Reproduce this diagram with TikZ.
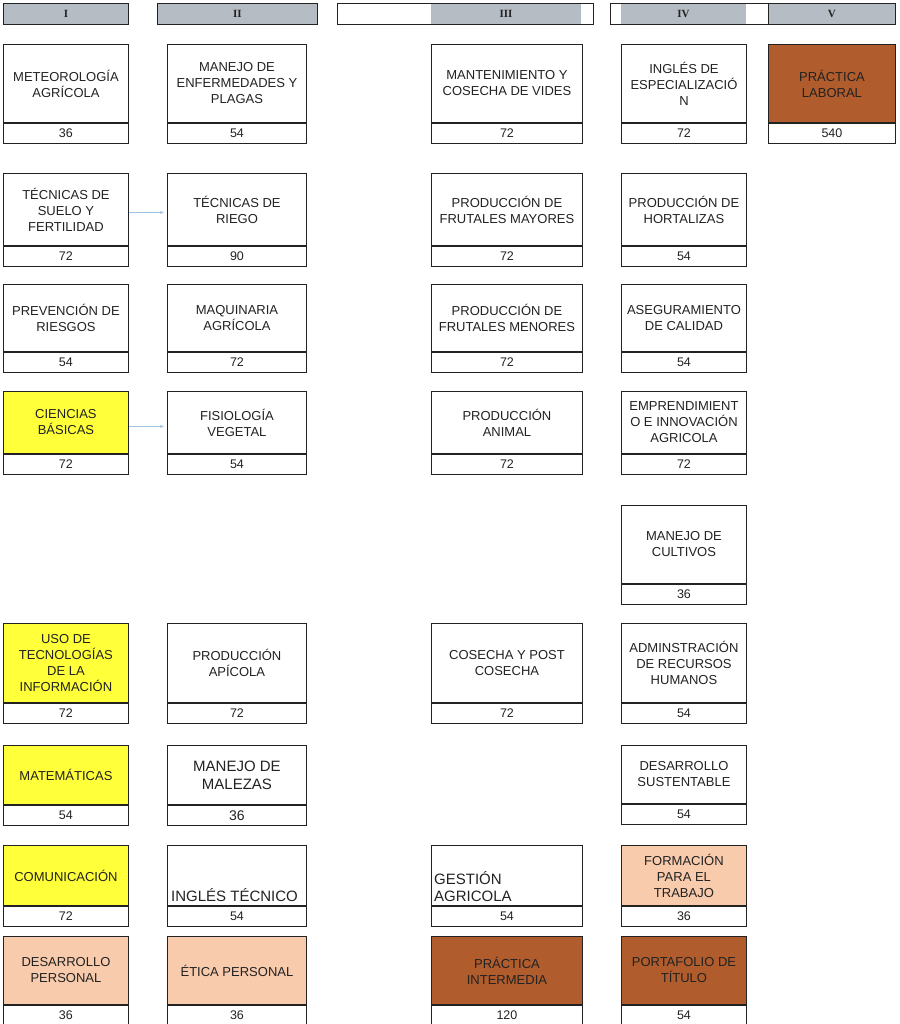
\documentclass[tikz,border=0pt]{standalone}
\usepackage{fontspec}
\setmainfont{Liberation Sans}
\newfontfamily\semfont{Liberation Serif}
\usetikzlibrary{arrows.meta}

\definecolor{gris}{HTML}{B6BCC4}
\definecolor{amarillo}{HTML}{FFFF3A}
\definecolor{durazno}{HTML}{F8CBAD}
\definecolor{cafe}{HTML}{B05C2D}
\definecolor{azulclaro}{HTML}{9DC3E6}
\definecolor{tinta}{HTML}{222222}

\tikzset{
	curso/.style={draw=tinta, line width=0.9pt, align=center, inner sep=1pt, text=tinta, font=\fontsize{13}{16}\selectfont, anchor=north west},
	horas/.style={draw=tinta, line width=0.9pt, fill=white, minimum height=20, inner sep=0pt, text=tinta, font=\fontsize{12.5}{14}\selectfont, anchor=north},
	sem/.style={draw=tinta, line width=0.9pt, minimum height=21, inner sep=0pt, anchor=north west},
	semtxt/.style={text=tinta, inner sep=0pt, font=\semfont\bfseries\fontsize{11}{12}\selectfont},
	flecha/.style={draw=azulclaro, line width=0.6pt, -{Stealth[length=4pt,width=3pt]}, shorten >=3pt},
}

\begin{document}
\begin{tikzpicture}[x=1pt, y=-1pt]
	\useasboundingbox (0,0) rectangle (899,1024);
	
	% semestres
	\node[sem, fill=gris, minimum width=125] (semI) at (3,3) {};
	\node[semtxt] (semI-t) at (semI.center) {I};
	\node[sem, fill=gris, minimum width=160] (semII) at (157,3) {};
	\node[semtxt] (semII-t) at (semII.center) {II};
	\fill[gris] (431,3) rectangle (581,24);
	\node[sem, minimum width=256] (semIII) at (337,3) {};
	\node[semtxt] (semIII-t) at (506,13.5) {III};
	\fill[gris] (621,3) rectangle (746,24);
	\node[sem, minimum width=158] (semIV) at (610,3) {};
	\node[semtxt] (semIV-t) at (683.5,13.5) {IV};
	\node[sem, fill=gris, minimum width=127] (semV) at (768,3) {};
	\node[semtxt] (semV-t) at (semV.center) {V};
	
	% asignaturas
	\foreach \name/\x/\w/\top/\h/\colr/\txt/\hrs in {
		meteo/3/125/44/78/white/{METEOROLOGÍA\\AGRÍCOLA}/36,
		suelo/3/125/173/72/white/{TÉCNICAS DE\\SUELO Y\\FERTILIDAD}/72,
		riesgos/3/125/284/67/white/{PREVENCIÓN DE\\RIESGOS}/54,
		basicas/3/125/391/62/amarillo/{CIENCIAS\\BÁSICAS}/72,
		tic/3/125/623/79/amarillo/{USO DE\\TECNOLOGÍAS\\DE LA\\INFORMACIÓN}/72,
		mate/3/125/745/59/amarillo/{MATEMÁTICAS}/54,
		comu/3/125/845/60/amarillo/{COMUNICACIÓN}/72,
		desper/3/125/936/68/durazno/{DESARROLLO\\PERSONAL}/36,
		plagas/167/139/44/78/white/{MANEJO DE\\ENFERMEDADES Y\\PLAGAS}/54,
		riego/167/139/173/72/white/{TÉCNICAS DE\\RIEGO}/90,
		maquinaria/167/139/284/67/white/{MAQUINARIA\\AGRÍCOLA}/72,
		fisio/167/139/391/62/white/{FISIOLOGÍA\\VEGETAL}/54,
		apicola/167/139/623/79/white/{PRODUCCIÓN\\APÍCOLA}/72,
		etica/167/139/936/68/durazno/{ÉTICA PERSONAL}/36,
		vides/431/151/44/78/white/{MANTENIMIENTO Y\\COSECHA DE VIDES}/72,
		mayores/431/151/173/72/white/{PRODUCCIÓN DE\\FRUTALES MAYORES}/72,
		menores/431/151/284/67/white/{PRODUCCIÓN DE\\FRUTALES MENORES}/72,
		animal/431/151/391/62/white/{PRODUCCIÓN\\ANIMAL}/72,
		postcosecha/431/151/623/79/white/{COSECHA Y POST\\COSECHA}/72,
		intermedia/431/151/936/68/cafe/{PRÁCTICA\\INTERMEDIA}/120,
		ingesp/621/125/44/78/white/{INGLÉS DE\\ESPECIALIZACIÓ\\N}/72,
		hortalizas/621/125/173/72/white/{PRODUCCIÓN DE\\HORTALIZAS}/54,
		calidad/621/125/284/67/white/{ASEGURAMIENTO\\DE CALIDAD}/54,
		emprende/621/125/391/62/white/{EMPRENDIMIENT\\O E INNOVACIÓN\\AGRICOLA}/72,
		cultivos/621/125/505/78/white/{MANEJO DE\\CULTIVOS}/36,
		rrhh/621/125/623/79/white/{ADMINSTRACIÓN\\DE RECURSOS\\HUMANOS}/54,
		sustentable/621/125/745/58/white/{DESARROLLO\\SUSTENTABLE}/54,
		trabajo/621/125/845/60/durazno/{FORMACIÓN\\PARA EL\\TRABAJO}/36,
		portafolio/621/125/936/68/cafe/{PORTAFOLIO DE\\TÍTULO}/54,
		laboral/768/127/44/78/cafe/{PRÁCTICA\\LABORAL}/540}
	{
		\node[curso, fill=\colr, minimum width=\w, minimum height=\h] (\name) at (\x,\top) {\txt};
		\node[horas, minimum width=\w] (\name-h) at (\name.south) {\hrs};
	}
	
	% casos con otra letra
	\node[curso, minimum width=139, minimum height=59, font=\fontsize{15}{18}\selectfont] (malezas) at (167,745) {MANEJO DE\\MALEZAS};
	\node[horas, minimum width=139, font=\fontsize{14}{16}\selectfont] (malezas-h) at (malezas.south) {36};
	
	\node[curso, minimum width=139, minimum height=60] (ingtec) at (167,845) {};
	\node[anchor=south west, inner xsep=4pt, inner ysep=4pt, text=tinta, font=\fontsize{15}{18}\selectfont] (ingtec-t) at (ingtec.south west) {INGLÉS TÉCNICO};
	\node[horas, minimum width=139] (ingtec-h) at (ingtec.south) {54};
	
	\node[curso, minimum width=151, minimum height=60] (gestion) at (431,845) {};
	\node[anchor=south west, align=left, inner xsep=3pt, inner ysep=4pt, text=tinta, font=\fontsize{15}{17}\selectfont] (gestion-t) at (gestion.south west) {GESTIÓN\\AGRICOLA};
	\node[horas, minimum width=151] (gestion-h) at (gestion.south) {54};
	
	% prerrequisitos
	\draw[flecha] ([yshift=-3pt]suelo.east) -- ([yshift=-3pt]riego.west);
	\draw[flecha] ([yshift=-4pt]basicas.east) -- ([yshift=-4pt]fisio.west);
	
\end{tikzpicture}
\end{document}
